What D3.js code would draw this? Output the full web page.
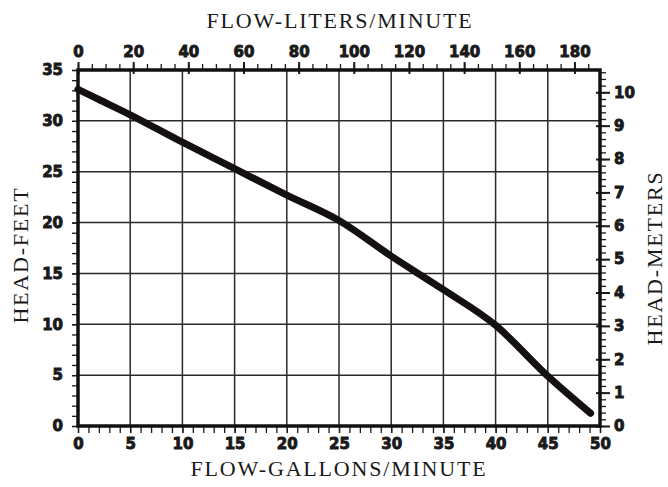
<!DOCTYPE html>
<html>
<head>
<meta charset="utf-8">
<script src="https://cdn.jsdelivr.net/npm/d3@7"></script>
<style>
  body { margin: 0; background: #fff; }
  .tick-lbl { font-family: "DejaVu Sans", sans-serif; font-weight: bold; font-size: 15px; fill: #1a1a1a; stroke: #1a1a1a; stroke-width: 0.9px; }
  .title { font-family: "Liberation Serif", "Times New Roman", serif; font-size: 22px; letter-spacing: 1.8px; fill: #1a1a1a; }
</style>
</head>
<body>
<div id="chart"></div>
<script>
'use strict';

// pump curve
const flowGpm = [0, 2, 5, 10, 15, 20, 25, 30, 35, 40, 45, 49.1];
const headFeet = [33.1, 32.1, 30.6, 27.9, 25.3, 22.7, 20.2, 16.7, 13.4, 9.9, 4.9, 1.25];

const gpmTicks = [0, 5, 10, 15, 20, 25, 30, 35, 40, 45, 50];
const literTicks = [0, 20, 40, 60, 80, 100, 120, 140, 160, 180];
const feetTicks = [0, 5, 10, 15, 20, 25, 30, 35];
const meterTicks = [0, 1, 2, 3, 4, 5, 6, 7, 8, 9, 10];

const settings = {
    width: 668,
    height: 487,
    elId: '#chart',
};

const plot = { left: 78, right: 600, top: 70, bottom: 426 };

const LITERS_PER_GAL = 3.78541;
const M_PER_FT = 0.3048;

const svg = d3.select(settings.elId)
    .append('svg')
    .attr('width', settings.width)
    .attr('height', settings.height);

const x = d3.scaleLinear().domain([0, 50]).range([plot.left, plot.right]);
const xL = d3.scaleLinear().domain([0, 50 * LITERS_PER_GAL]).range([plot.left, plot.right]);
const y = d3.scaleLinear().domain([0, 35]).range([plot.bottom, plot.top]);
const yM = d3.scaleLinear().domain([0, 35 * M_PER_FT]).range([plot.bottom, plot.top]);

// grid
const grid = svg.append('g').attr('stroke', '#2a2a2a').attr('stroke-width', 1.5);
grid.selectAll('.vg')
    .data(gpmTicks.slice(1, -1))
    .enter().append('line')
    .attr('x1', d => x(d)).attr('x2', d => x(d))
    .attr('y1', plot.top).attr('y2', plot.bottom);
grid.selectAll('.hg')
    .data(feetTicks.slice(1, -1))
    .enter().append('line')
    .attr('y1', d => y(d)).attr('y2', d => y(d))
    .attr('x1', plot.left).attr('x2', plot.right);

// axes
function styleAxis(g) {
    g.select('.domain').remove();
    g.selectAll('line').attr('stroke', '#1a1a1a').attr('stroke-width', 1.3);
    g.selectAll('text').attr('class', 'tick-lbl');
}

// bottom: gallons
svg.append('g')
    .attr('transform', `translate(0,${plot.bottom})`)
    .call(d3.axisBottom(x).tickValues(d3.range(0, 51, 1)).tickSize(7).tickFormat(''))
    .call(styleAxis);
svg.append('g')
    .attr('transform', `translate(0,${plot.bottom})`)
    .call(d3.axisBottom(x).tickValues(gpmTicks).tickSize(7).tickPadding(5))
    .call(styleAxis);

// top: liters
svg.append('g')
    .attr('transform', `translate(0,${plot.top})`)
    .call(d3.axisTop(xL).tickValues(d3.range(0, 186, 5)).tickSize(6).tickFormat(''))
    .call(styleAxis);
svg.append('g')
    .attr('transform', `translate(0,${plot.top})`)
    .call(d3.axisTop(xL).tickValues(literTicks).tickSizeInner(8).tickSizeOuter(0).tickPadding(5))
    .call(styleAxis)
    .call(g => g.selectAll('.tick line').attr('y2', -8).attr('y1', 4).attr('stroke-width', 2));

// left: feet
svg.append('g')
    .attr('transform', `translate(${plot.left},0)`)
    .call(d3.axisLeft(y).tickValues(d3.range(0, 36, 1)).tickSize(6).tickFormat(''))
    .call(styleAxis);
svg.append('g')
    .attr('transform', `translate(${plot.left},0)`)
    .call(d3.axisLeft(y).tickValues(feetTicks).tickSize(6).tickPadding(9))
    .call(styleAxis);

// right: meters
svg.append('g')
    .attr('transform', `translate(${plot.right},0)`)
    .call(d3.axisRight(yM).tickValues(d3.range(0, 10.61, 0.2)).tickSize(6).tickFormat(''))
    .call(styleAxis);
svg.append('g')
    .attr('transform', `translate(${plot.right},0)`)
    .call(d3.axisRight(yM).tickValues(meterTicks).tickSize(10).tickPadding(4))
    .call(styleAxis)
    .call(g => g.selectAll('.tick line').attr('x1', -4).attr('stroke-width', 2));

// frame
svg.append('rect')
    .attr('x', plot.left).attr('y', plot.top)
    .attr('width', plot.right - plot.left)
    .attr('height', plot.bottom - plot.top)
    .attr('fill', 'none')
    .attr('stroke', '#111')
    .attr('stroke-width', 3.5);

// curve
const line = d3.line()
    .x(d => x(d[0]))
    .y(d => y(d[1]))
    .curve(d3.curveMonotoneX);

svg.append('path')
    .datum(d3.zip(flowGpm, headFeet))
    .attr('d', line)
    .attr('fill', 'none')
    .attr('stroke', '#141010')
    .attr('stroke-width', 7)
    .attr('stroke-linecap', 'round')
    .attr('stroke-linejoin', 'round');

// titles
svg.append('text')
    .attr('class', 'title')
    .attr('x', 340).attr('y', 28)
    .attr('text-anchor', 'middle')
    .text('FLOW-LITERS/MINUTE');
svg.append('text')
    .attr('class', 'title')
    .attr('x', 339).attr('y', 476)
    .attr('text-anchor', 'middle')
    .text('FLOW-GALLONS/MINUTE');
svg.append('text')
    .attr('class', 'title')
    .attr('transform', 'translate(28,255) rotate(-90)')
    .attr('text-anchor', 'middle')
    .text('HEAD-FEET');
svg.append('text')
    .attr('class', 'title')
    .attr('transform', 'translate(662,258) rotate(-90)')
    .attr('text-anchor', 'middle')
    .text('HEAD-METERS');
</script>
</body>
</html>
